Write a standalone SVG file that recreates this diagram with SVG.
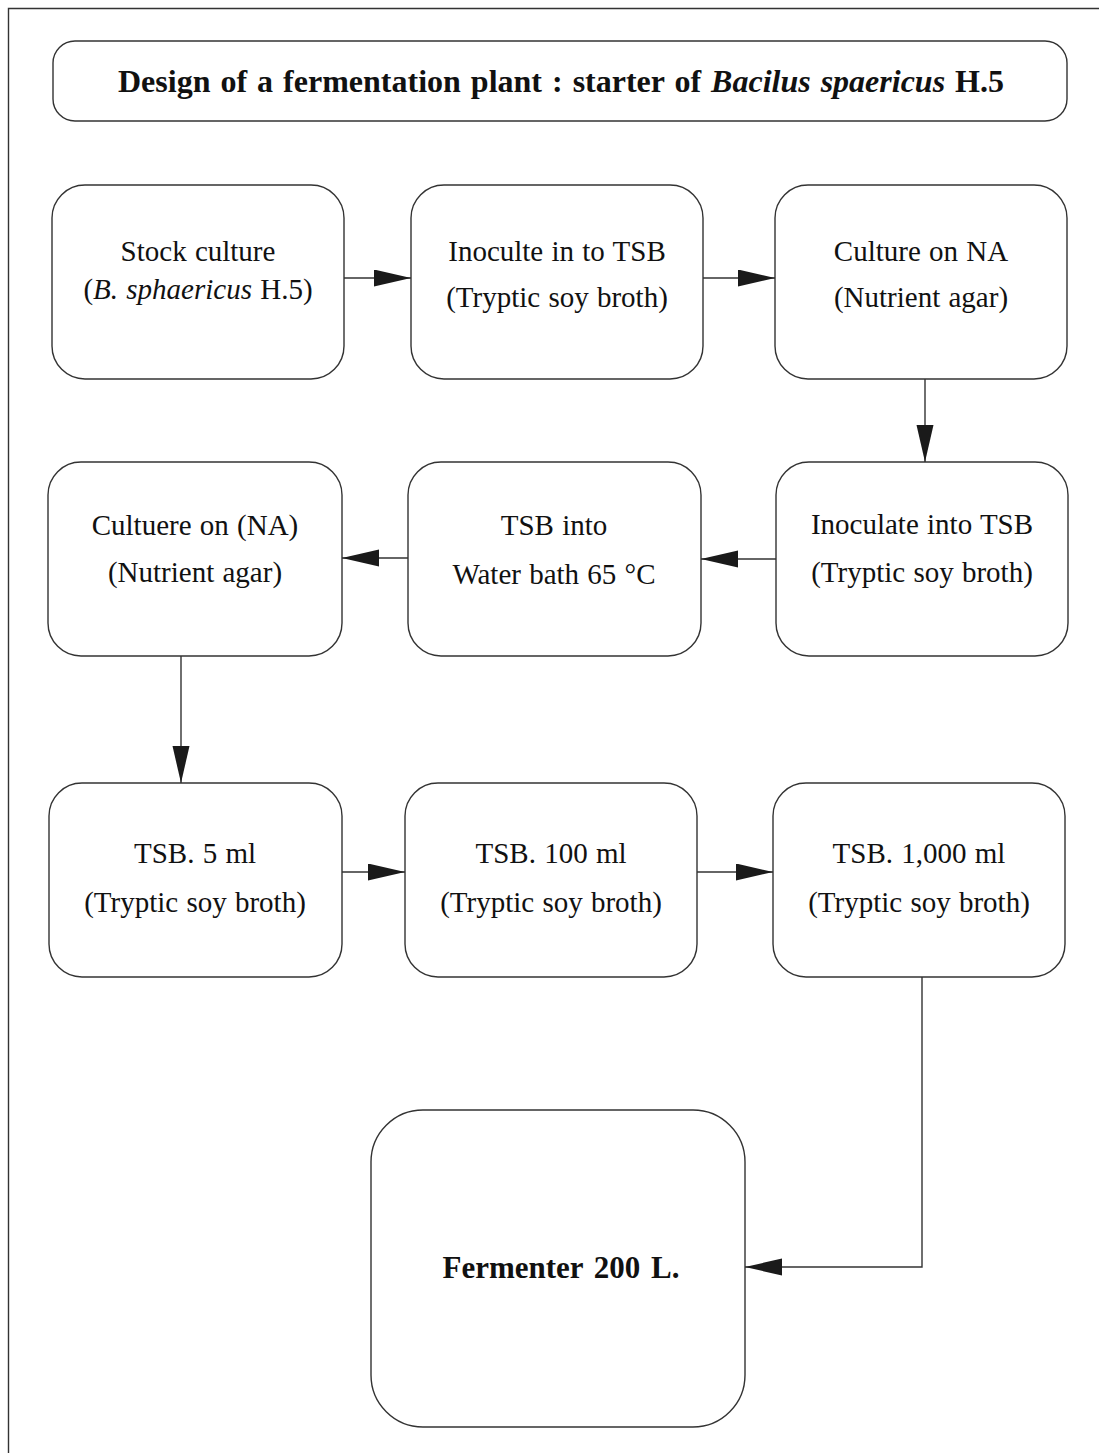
<svg xmlns="http://www.w3.org/2000/svg" width="1099" height="1453" viewBox="0 0 1099 1453">
<style>
.box{fill:#fff;stroke:#333;stroke-width:1.4}
.t{font-family:"Liberation Serif","Times New Roman",serif;font-size:29px;fill:#111;text-anchor:middle;word-spacing:1px}
.b{font-weight:bold}
.c{fill:none;stroke:#333;stroke-width:1.4}
</style>
<defs>
<marker id="ah" markerUnits="userSpaceOnUse" markerWidth="38" markerHeight="18" refX="37" refY="8.5" orient="auto">
<path d="M0,0 L37,8.5 L0,17 z" fill="#1a1a1a"/>
</marker>
</defs>
<rect width="1099" height="1453" fill="#fff"/>
<path d="M8.5,1453 V8.5 H1099" fill="none" stroke="#333" stroke-width="1.4"/>

<g id="title">
<rect class="box" x="53" y="41" width="1014" height="80" rx="22"/>
<text class="t b" x="561" y="92" style="font-size:32px;word-spacing:2px">Design of a fermentation plant : starter of <tspan font-style="italic">Bacilus spaericus</tspan> H.5</text>
</g>

<g id="n1">
<rect class="box" x="52" y="185" width="292" height="194" rx="33"/>
<text class="t" x="198" y="261">Stock culture</text>
<text class="t" x="198" y="299">(<tspan font-style="italic">B. sphaericus</tspan> H.5)</text>
</g>
<g id="n2">
<rect class="box" x="411" y="185" width="292" height="194" rx="33"/>
<text class="t" x="557" y="261">Inoculte in to TSB</text>
<text class="t" x="557" y="307">(Tryptic soy broth)</text>
</g>
<g id="n3">
<rect class="box" x="775" y="185" width="292" height="194" rx="33"/>
<text class="t" x="921" y="261">Culture on NA</text>
<text class="t" x="921" y="307">(Nutrient agar)</text>
</g>

<g id="n4">
<rect class="box" x="776" y="462" width="292" height="194" rx="33"/>
<text class="t" x="922" y="534">Inoculate into TSB</text>
<text class="t" x="922" y="582">(Tryptic soy broth)</text>
</g>
<g id="n5">
<rect class="box" x="408" y="462" width="293" height="194" rx="33"/>
<text class="t" x="554" y="535">TSB into</text>
<text class="t" x="554" y="584">Water bath 65 °C</text>
</g>
<g id="n6">
<rect class="box" x="48" y="462" width="294" height="194" rx="33"/>
<text class="t" x="195" y="535">Cultuere on (NA)</text>
<text class="t" x="195" y="582">(Nutrient agar)</text>
</g>

<g id="n7">
<rect class="box" x="49" y="783" width="293" height="194" rx="33"/>
<text class="t" x="195" y="863">TSB. 5 ml</text>
<text class="t" x="195" y="912">(Tryptic soy broth)</text>
</g>
<g id="n8">
<rect class="box" x="405" y="783" width="292" height="194" rx="33"/>
<text class="t" x="551" y="863">TSB. 100 ml</text>
<text class="t" x="551" y="912">(Tryptic soy broth)</text>
</g>
<g id="n9">
<rect class="box" x="773" y="783" width="292" height="194" rx="33"/>
<text class="t" x="919" y="863">TSB. 1,000 ml</text>
<text class="t" x="919" y="912">(Tryptic soy broth)</text>
</g>

<g id="n10">
<rect class="box" x="371" y="1110" width="374" height="317" rx="52"/>
<text class="t b" x="561" y="1278" style="font-size:31px;word-spacing:3px">Fermenter 200 L.</text>
</g>

<g id="connectors">
<path class="c" d="M344,278 H411" marker-end="url(#ah)"/>
<path class="c" d="M703,278 H775" marker-end="url(#ah)"/>
<path class="c" d="M925,379 V462" marker-end="url(#ah)"/>
<path class="c" d="M776,559 H701" marker-end="url(#ah)"/>
<path class="c" d="M408,558 H342" marker-end="url(#ah)"/>
<path class="c" d="M181,656 V783" marker-end="url(#ah)"/>
<path class="c" d="M342,872 H405" marker-end="url(#ah)"/>
<path class="c" d="M697,872 H773" marker-end="url(#ah)"/>
<path class="c" d="M922,977 V1267 H745" marker-end="url(#ah)"/>
</g>
</svg>
